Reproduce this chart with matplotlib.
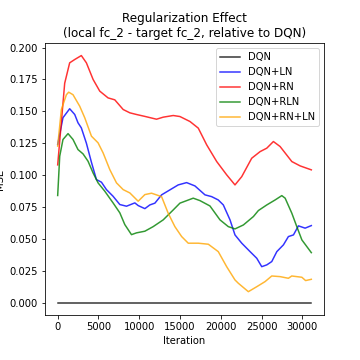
import numpy as np
import matplotlib
matplotlib.use('Agg')
import matplotlib.pyplot as plt

# valores (iteracion, MSE)
dqn_x = [0, 31100]
dqn_y = [0.0, 0.0]

ln_x = [0, 650, 1470, 2090, 2490, 2900, 3520, 4140, 4750, 5370, 5980, 6790, 7620, 8440,
        9460, 9870, 10690, 11300, 11920, 12740, 13760, 14780, 15810, 16830, 18060, 18880,
        19690, 20310, 21130, 21740, 22570, 23590, 24410, 25020, 25640, 26250, 26870, 27680,
        28290, 28910, 29520, 30340, 31100]
ln_y = [0.124, 0.145, 0.152, 0.1475, 0.141, 0.137, 0.125, 0.110, 0.0965, 0.0944, 0.0886,
        0.0834, 0.0769, 0.0756, 0.0782, 0.0761, 0.0737, 0.0766, 0.078, 0.0845, 0.0884, 0.0923,
        0.0941, 0.0915, 0.0845, 0.0831, 0.0805, 0.0766, 0.0649, 0.0531, 0.0466, 0.040, 0.0348,
        0.0282, 0.0296, 0.0322, 0.040, 0.0453, 0.0518, 0.0531, 0.0602, 0.0584, 0.0604]

rn_x = [0, 860, 1470, 2090, 2900, 3520, 4340, 5160, 6180, 7000, 8030, 8850, 9660, 10690,
        12120, 12940, 14170, 14990, 16220, 17240, 18270, 19500, 20720, 21740, 22570, 23790,
        24820, 25640, 26450, 27270, 28710, 29730, 31100]
rn_y = [0.108, 0.172, 0.188, 0.1906, 0.1937, 0.188, 0.175, 0.1658, 0.1605, 0.159, 0.1514,
        0.1488, 0.1475, 0.146, 0.1438, 0.1454, 0.1467, 0.1459, 0.142, 0.1368, 0.1237, 0.1106,
        0.1002, 0.0923, 0.0988, 0.1132, 0.1184, 0.1211, 0.1263, 0.1224, 0.1106, 0.1072, 0.1041]

rln_x = [0, 250, 650, 1270, 1880, 2490, 3110, 3720, 4340, 4950, 5770, 6790, 7620, 8230,
         9050, 9660, 10690, 11710, 12940, 14170, 14990, 16620, 17440, 18670, 19900, 20920,
         21740, 22770, 24000, 24610, 25640, 26660, 27480, 27890, 28710, 29320, 29940, 31100]
rln_y = [0.084, 0.1148, 0.1279, 0.1325, 0.1279, 0.120, 0.1166, 0.1109, 0.1017, 0.0939,
         0.0874, 0.0782, 0.0704, 0.0612, 0.0533, 0.0547, 0.056, 0.0596, 0.0649, 0.0727, 0.078,
         0.0819, 0.080, 0.0758, 0.0649, 0.0596, 0.0578, 0.0609, 0.0675, 0.0722, 0.0766, 0.0805,
         0.0839, 0.0819, 0.0701, 0.0596, 0.0492, 0.0392]

rnln_x = [0, 450, 1070, 1350, 1880, 2700, 3320, 4140, 4950, 5570, 6390, 7210, 8030, 8850,
          9870, 10690, 11510, 12740, 13550, 14370, 15200, 16010, 17240, 18470, 19690, 20720,
          21740, 22150, 23380, 24410, 25430, 26250, 27270, 28290, 28700, 29940, 30400, 31100]
rnln_y = [0.1227, 0.1514, 0.163, 0.165, 0.163, 0.154, 0.1449, 0.1305, 0.1253, 0.1174, 0.1043,
          0.0939, 0.0886, 0.086, 0.0795, 0.0847, 0.0858, 0.0831, 0.0701, 0.0596, 0.0518, 0.0466,
          0.0466, 0.0458, 0.040, 0.0282, 0.0178, 0.0152, 0.0086, 0.0125, 0.0165, 0.0209, 0.0204,
          0.0191, 0.0209, 0.0199, 0.0173, 0.0183]

series = [
    ('DQN', dqn_x, dqn_y, 'k'),
    ('DQN+LN', ln_x, ln_y, 'b'),
    ('DQN+RN', rn_x, rn_y, 'r'),
    ('DQN+RLN', rln_x, rln_y, 'g'),
    ('DQN+RN+LN', rnln_x, rnln_y, 'orange'),
]

fig = plt.figure(figsize=(5, 5), dpi=72)
ax = fig.add_axes([0.125, 0.125, 0.775, 0.755])

for name, x, y, c in series:
    ax.plot(x, y, color=c, alpha=0.8, label=name)

ax.set_title('Regularization Effect\n(local fc_2 - target fc_2, relative to DQN)')
ax.set_xlabel('Iteration')
ax.set_ylabel('MSE')
ax.legend(loc='upper right')

fig.savefig('out.png', dpi=72)
